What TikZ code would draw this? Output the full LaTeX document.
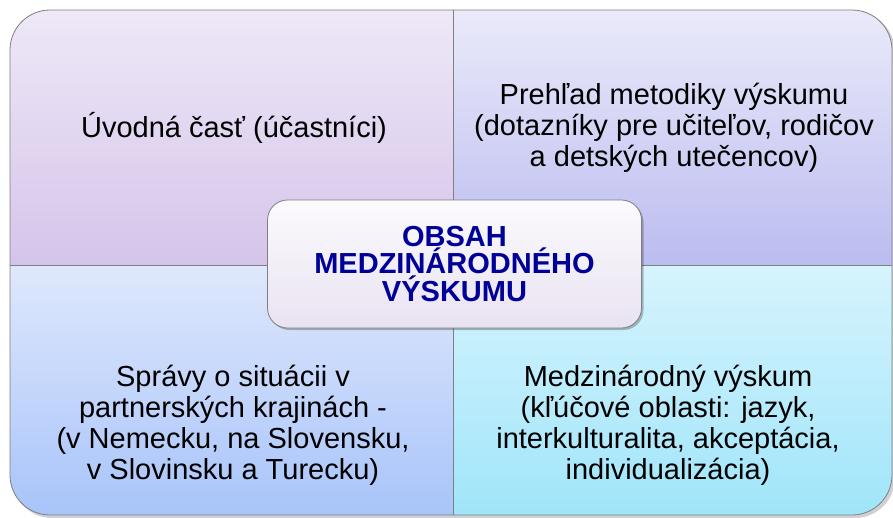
\documentclass[tikz,border=0pt]{standalone}
\usepackage{fontspec}
\setmainfont{Liberation Sans}
\usetikzlibrary{shadows}
\definecolor{tlT}{HTML}{EEE8F7}
\definecolor{tlB}{HTML}{D5C4EA}
\definecolor{trT}{HTML}{EAEAFA}
\definecolor{trB}{HTML}{BBBCF0}
\definecolor{blT}{HTML}{DFE8FC}
\definecolor{blB}{HTML}{A8C4FA}
\definecolor{brT}{HTML}{D6F4FD}
\definecolor{brB}{HTML}{A0E5FA}
\definecolor{cT}{HTML}{FBFAFD}
\definecolor{cB}{HTML}{E9E3F1}
\definecolor{edge}{HTML}{7F7F7F}
\definecolor{navy}{HTML}{000099}
\tikzset{
  quadtext/.style={align=center, font=\fontsize{29}{31}\selectfont, text=black, inner sep=0pt},
  centerbox/.style={draw=edge, line width=0.8pt, rounded corners=20pt,
     top color=cT, bottom color=cB, minimum width=374pt, minimum height=128pt,
     align=center, font=\fontsize{29}{27.5}\selectfont\bfseries, text=navy,
     drop shadow={shadow xshift=2pt, shadow yshift=-2pt, fill=black, opacity=0.25}},
}
\begin{document}
\begin{tikzpicture}[x=1pt,y=-1pt]
\useasboundingbox (0,0) rectangle (893,517);
% soft shadow of outer shape
\fill[black, opacity=0.18, rounded corners=40pt] (12,12) rectangle (895,518);
\begin{scope}
  \clip[rounded corners=40pt] (10,10) rectangle (892,515);
  \shade[top color=tlT, bottom color=tlB] (10,10) rectangle (453,265);
  \shade[top color=trT, bottom color=trB] (453,10) rectangle (892,265);
  \shade[top color=blT, bottom color=blB] (10,265) rectangle (453,515);
  \shade[top color=brT, bottom color=brB] (453,265) rectangle (892,515);
\end{scope}
\draw[edge, line width=0.8pt, rounded corners=40pt] (10,10) rectangle (892,515);
\coordinate (vt) at (453,10);
\coordinate (vb) at (453,515);
\coordinate (hl) at (10,265);
\coordinate (hr) at (892,265);
\draw[edge, line width=0.8pt] (vt) -- (vb);
\draw[edge, line width=0.8pt] (hl) -- (hr);

\node[quadtext] (tl) at (234,128) {Úvodná časť (účastníci)};
\node[quadtext] (tr) at (674,128) {Prehľad metodiky výskumu\\(dotazníky pre učiteľov, rodičov\\a detských utečencov)};
\node[quadtext] (bl) at (233,425) {Správy o situácii v\\partnerských krajinách -\\(v Nemecku, na Slovensku,\\v Slovinsku a Turecku)};
\node[quadtext] (br) at (668,425) {Medzinárodný výskum\\(kľúčové oblasti: jazyk,\\interkulturalita, akceptácia,\\individualizácia)};

\node[centerbox] (c) at (454.5,264) {OBSAH\\MEDZINÁRODNÉHO\\VÝSKUMU};
\end{tikzpicture}
\end{document}
